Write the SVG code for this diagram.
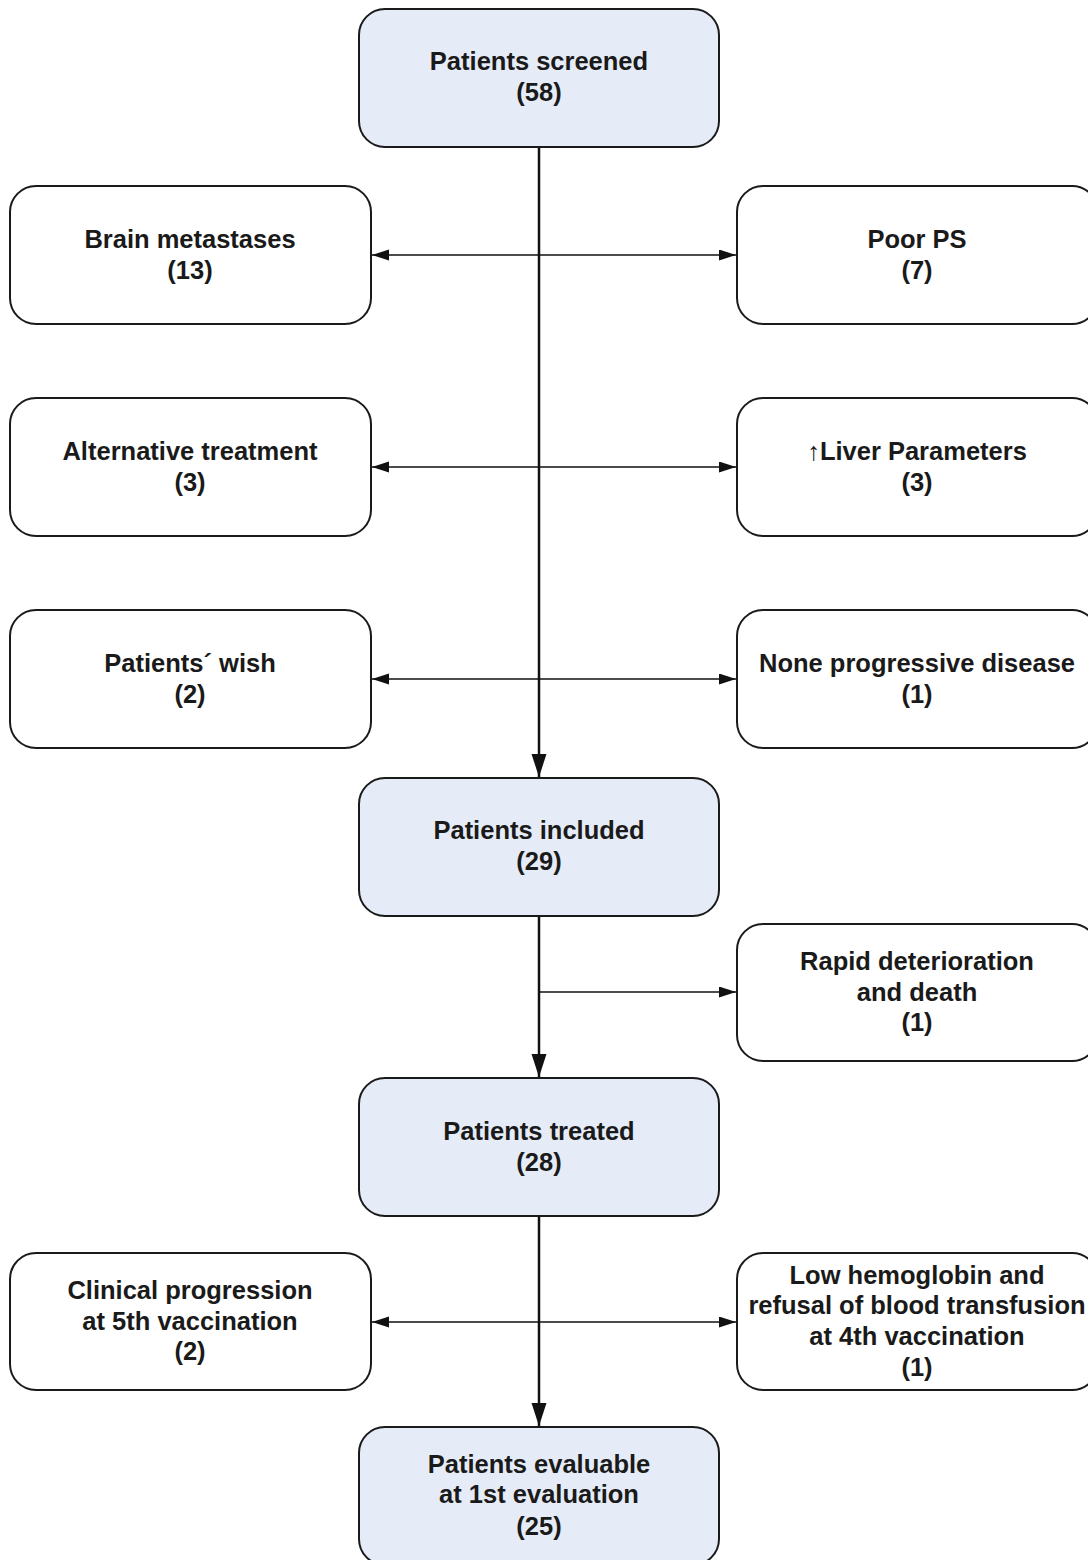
<svg xmlns="http://www.w3.org/2000/svg" width="1088" height="1560" viewBox="0 0 1088 1560">
<style>
.box{fill:#ffffff;stroke:#1a1a1a;stroke-width:2}
.main{fill:#e6ecf7;stroke:#1a1a1a;stroke-width:2}
text{font-family:"Liberation Sans",Arial,sans-serif;font-weight:bold;font-size:25.5px;fill:#1a1a1a;text-anchor:middle}
.v{stroke:#111111;stroke-width:2.5;fill:none}
.h{stroke:#111111;stroke-width:1.5;fill:none}
</style>
<defs>
<marker id="av" markerUnits="userSpaceOnUse" markerWidth="23" markerHeight="16" refX="23" refY="7.5" orient="auto">
<path d="M0,0 L23,7.5 L0,15 Z" fill="#111111"/>
</marker>
<marker id="ah" markerUnits="userSpaceOnUse" markerWidth="17" markerHeight="12" refX="17" refY="5.5" orient="auto-start-reverse">
<path d="M0,0 L17,5.5 L0,11 Z" fill="#111111"/>
</marker>
</defs>
<g id="connectors">
<line class="v" x1="539" y1="147" x2="539" y2="777" marker-end="url(#av)"/>
<line class="h" x1="372" y1="255" x2="736" y2="255" marker-start="url(#ah)" marker-end="url(#ah)"/>
<line class="h" x1="372" y1="467" x2="736" y2="467" marker-start="url(#ah)" marker-end="url(#ah)"/>
<line class="h" x1="372" y1="679" x2="736" y2="679" marker-start="url(#ah)" marker-end="url(#ah)"/>
<line class="v" x1="539" y1="916" x2="539" y2="1077" marker-end="url(#av)"/>
<line class="h" x1="539" y1="992" x2="736" y2="992" marker-end="url(#ah)"/>
<line class="v" x1="539" y1="1216" x2="539" y2="1426" marker-end="url(#av)"/>
<line class="h" x1="372" y1="1322" x2="736" y2="1322" marker-start="url(#ah)" marker-end="url(#ah)"/>
</g>
<g id="screened">
<rect class="main" x="359" y="9" width="360" height="138" rx="26"/>
<text x="539" y="70">Patients screened</text>
<text x="539" y="101">(58)</text>
</g>
<g id="brain">
<rect class="box" x="10" y="186" width="361" height="138" rx="26"/>
<text x="190" y="248">Brain metastases</text>
<text x="190" y="279">(13)</text>
</g>
<g id="poorps">
<rect class="box" x="737" y="186" width="361" height="138" rx="26"/>
<text x="917" y="248">Poor PS</text>
<text x="917" y="279">(7)</text>
</g>
<g id="alternative">
<rect class="box" x="10" y="398" width="361" height="138" rx="26"/>
<text x="190" y="460">Alternative treatment</text>
<text x="190" y="491">(3)</text>
</g>
<g id="liver">
<rect class="box" x="737" y="398" width="361" height="138" rx="26"/>
<text x="917" y="460">↑Liver Parameters</text>
<text x="917" y="491">(3)</text>
</g>
<g id="wish">
<rect class="box" x="10" y="610" width="361" height="138" rx="26"/>
<text x="190" y="672">Patients´ wish</text>
<text x="190" y="703">(2)</text>
</g>
<g id="noneprog">
<rect class="box" x="737" y="610" width="361" height="138" rx="26"/>
<text x="917" y="672">None progressive disease</text>
<text x="917" y="703">(1)</text>
</g>
<g id="included">
<rect class="main" x="359" y="778" width="360" height="138" rx="26"/>
<text x="539" y="839">Patients included</text>
<text x="539" y="870">(29)</text>
</g>
<g id="rapid">
<rect class="box" x="737" y="924" width="361" height="137" rx="26"/>
<text x="917" y="970">Rapid deterioration</text>
<text x="917" y="1001">and death</text>
<text x="917" y="1031">(1)</text>
</g>
<g id="treated">
<rect class="main" x="359" y="1078" width="360" height="138" rx="26"/>
<text x="539" y="1140">Patients treated</text>
<text x="539" y="1171">(28)</text>
</g>
<g id="clinical">
<rect class="box" x="10" y="1253" width="361" height="137" rx="26"/>
<text x="190" y="1299">Clinical progression</text>
<text x="190" y="1330">at 5th vaccination</text>
<text x="190" y="1360">(2)</text>
</g>
<g id="lowhb">
<rect class="box" x="737" y="1253" width="361" height="137" rx="26"/>
<text x="917" y="1284">Low hemoglobin and</text>
<text x="917" y="1314">refusal of blood transfusion</text>
<text x="917" y="1345">at 4th vaccination</text>
<text x="917" y="1376">(1)</text>
</g>
<g id="evaluable">
<rect class="main" x="359" y="1427" width="360" height="138" rx="26"/>
<text x="539" y="1473">Patients evaluable</text>
<text x="539" y="1503">at 1st evaluation</text>
<text x="539" y="1535">(25)</text>
</g>
</svg>
